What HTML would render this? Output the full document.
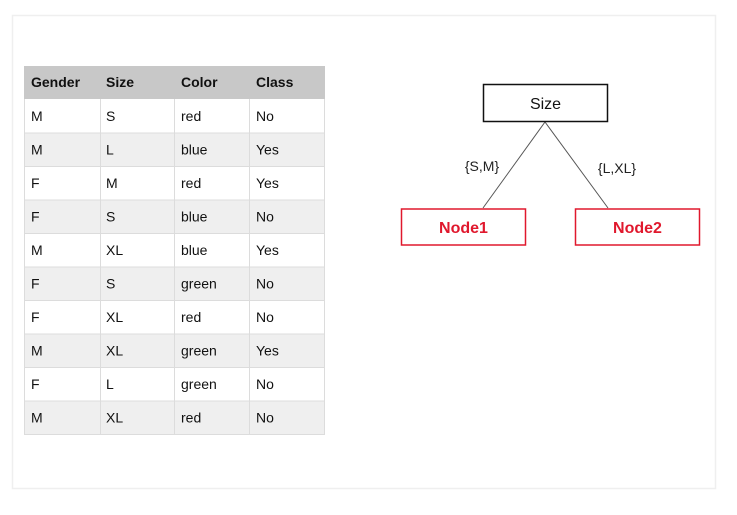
<!DOCTYPE html>
<html><head><meta charset="utf-8"><style>
html,body{margin:0;padding:0;background:#fff;width:737px;height:515px;overflow:hidden}
svg{display:block;font-family:"Liberation Sans",Arial,sans-serif}
</style></head><body>
<svg width="737" height="515" viewBox="0 0 737 515">
<rect x="12.5" y="15.5" width="703" height="473" fill="#fff" stroke="#efefef" stroke-width="1.5"/>
<rect x="24" y="66" width="301" height="33" fill="#c8c8c8"/>
<g fill="#efefef">
<rect x="24" y="133" width="301" height="33.5"/>
<rect x="24" y="200" width="301" height="33.5"/>
<rect x="24" y="267" width="301" height="33.5"/>
<rect x="24" y="334" width="301" height="33.5"/>
<rect x="24" y="401" width="301" height="33.5"/>
</g>
<g stroke="#dcdcdc" stroke-width="1">
<line x1="24.5" y1="99" x2="24.5" y2="434.5"/>
<line x1="100.5" y1="99" x2="100.5" y2="434.5"/>
<line x1="174.5" y1="99" x2="174.5" y2="434.5"/>
<line x1="249.5" y1="99" x2="249.5" y2="434.5"/>
<line x1="324.5" y1="99" x2="324.5" y2="434.5"/>
<line x1="24" y1="133" x2="325" y2="133"/>
<line x1="24" y1="166.5" x2="325" y2="166.5"/>
<line x1="24" y1="200" x2="325" y2="200"/>
<line x1="24" y1="233.5" x2="325" y2="233.5"/>
<line x1="24" y1="267" x2="325" y2="267"/>
<line x1="24" y1="300.5" x2="325" y2="300.5"/>
<line x1="24" y1="334" x2="325" y2="334"/>
<line x1="24" y1="367.5" x2="325" y2="367.5"/>
<line x1="24" y1="401" x2="325" y2="401"/>
<line x1="24" y1="434.5" x2="325" y2="434.5"/>
</g>
<g font-size="14" font-weight="bold" fill="#111">
<text x="31" y="87">Gender</text><text x="106" y="87">Size</text><text x="181" y="87">Color</text><text x="256" y="87">Class</text>
</g>
<g font-size="14" fill="#111">
<text x="31" y="121">M</text><text x="106" y="121">S</text><text x="181" y="121">red</text><text x="256" y="121">No</text>
<text x="31" y="154.5">M</text><text x="106" y="154.5">L</text><text x="181" y="154.5">blue</text><text x="256" y="154.5">Yes</text>
<text x="31" y="188">F</text><text x="106" y="188">M</text><text x="181" y="188">red</text><text x="256" y="188">Yes</text>
<text x="31" y="221.5">F</text><text x="106" y="221.5">S</text><text x="181" y="221.5">blue</text><text x="256" y="221.5">No</text>
<text x="31" y="255">M</text><text x="106" y="255">XL</text><text x="181" y="255">blue</text><text x="256" y="255">Yes</text>
<text x="31" y="288.5">F</text><text x="106" y="288.5">S</text><text x="181" y="288.5">green</text><text x="256" y="288.5">No</text>
<text x="31" y="322">F</text><text x="106" y="322">XL</text><text x="181" y="322">red</text><text x="256" y="322">No</text>
<text x="31" y="355.5">M</text><text x="106" y="355.5">XL</text><text x="181" y="355.5">green</text><text x="256" y="355.5">Yes</text>
<text x="31" y="389">F</text><text x="106" y="389">L</text><text x="181" y="389">green</text><text x="256" y="389">No</text>
<text x="31" y="422.5">M</text><text x="106" y="422.5">XL</text><text x="181" y="422.5">red</text><text x="256" y="422.5">No</text>
</g>
<g stroke="#555" stroke-width="1">
<line x1="545" y1="122" x2="483" y2="208"/>
<line x1="545" y1="122" x2="608" y2="208"/>
</g>
<rect x="483.5" y="84.5" width="124" height="37" fill="#fff" stroke="#111" stroke-width="1.5"/>
<text x="545.5" y="109" font-size="16" text-anchor="middle" fill="#111">Size</text>
<text x="482" y="171" font-size="14" text-anchor="middle" fill="#222">{S,M}</text>
<text x="617" y="173" font-size="14" text-anchor="middle" fill="#222">{L,XL}</text>
<rect x="401.5" y="209" width="124" height="36" fill="#fff" stroke="#e0182d" stroke-width="1.5"/>
<rect x="575.5" y="209" width="124" height="36" fill="#fff" stroke="#e0182d" stroke-width="1.5"/>
<text x="463.5" y="233" font-size="16" font-weight="bold" text-anchor="middle" fill="#e0182d">Node1</text>
<text x="637.5" y="233" font-size="16" font-weight="bold" text-anchor="middle" fill="#e0182d">Node2</text>
</svg>
</body></html>
